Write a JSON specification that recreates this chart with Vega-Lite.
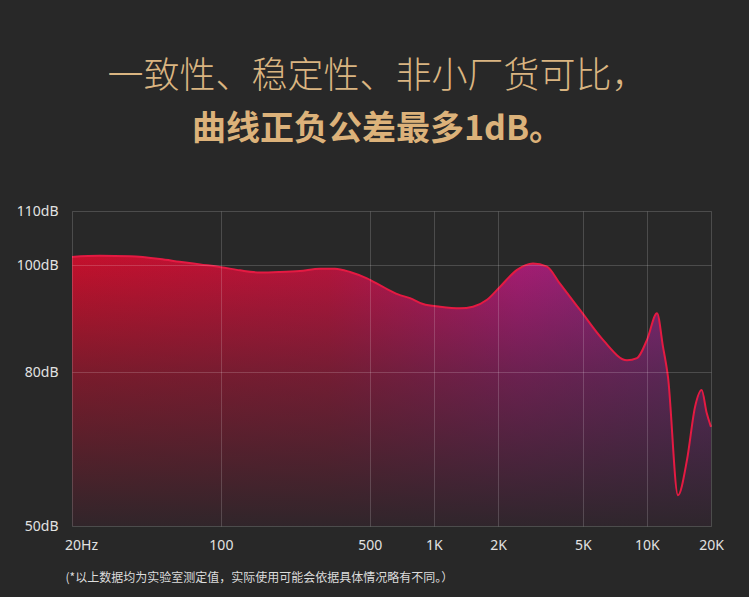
{
  "$schema": "https://vega.github.io/schema/vega-lite/v6.json",
  "width": 639,
  "height": 315,
  "autosize": {"type": "none"},
  "padding": {"left": 72, "top": 211, "right": 38, "bottom": 71},
  "background": "#282828",
  "config": {"view": {"stroke": null}},
  "title": {
    "text": "一致性、稳定性、非小厂货可比，",
    "subtitle": "曲线正负公差最多1dB。",
    "anchor": "middle",
    "frame": "group",
    "dx": -14,
    "offset": 56,
    "font": "Noto Sans CJK SC",
    "fontSize": 36,
    "fontWeight": 300,
    "color": "#dab581",
    "subtitleFont": "Noto Sans CJK SC",
    "subtitleFontSize": 34,
    "subtitleFontWeight": "bold",
    "subtitleColor": "#dcb27a",
    "subtitlePadding": 17
  },
  "data": {
    "values": [
      {"f": 20, "db": 101.5},
      {"f": 27, "db": 101.7},
      {"f": 37.4, "db": 101.6},
      {"f": 51.8, "db": 101.1},
      {"f": 64, "db": 100.6},
      {"f": 80, "db": 100.1},
      {"f": 100, "db": 99.6},
      {"f": 123, "db": 99.0},
      {"f": 153, "db": 98.6},
      {"f": 189, "db": 98.7},
      {"f": 235, "db": 98.9},
      {"f": 292, "db": 99.3},
      {"f": 343, "db": 99.3},
      {"f": 404, "db": 98.7},
      {"f": 485, "db": 97.5},
      {"f": 577, "db": 95.9},
      {"f": 679, "db": 94.5},
      {"f": 772, "db": 93.8},
      {"f": 889, "db": 92.7},
      {"f": 1069, "db": 92.2},
      {"f": 1326, "db": 91.9},
      {"f": 1526, "db": 92.2},
      {"f": 1776, "db": 93.5},
      {"f": 2042, "db": 95.9},
      {"f": 2456, "db": 99.1},
      {"f": 2920, "db": 100.3},
      {"f": 3396, "db": 99.7},
      {"f": 3908, "db": 96.5},
      {"f": 4854, "db": 91.6},
      {"f": 6224, "db": 86.0},
      {"f": 8066, "db": 82.2},
      {"f": 8988, "db": 82.6},
      {"f": 10012, "db": 86.0},
      {"f": 11158, "db": 91.0},
      {"f": 11905, "db": 84.7},
      {"f": 12565, "db": 79.0},
      {"f": 13996, "db": 56.0},
      {"f": 15432, "db": 62.9},
      {"f": 16828, "db": 73.2},
      {"f": 18078, "db": 76.5},
      {"f": 19094, "db": 72.0},
      {"f": 20000, "db": 69.3}
    ]
  },
  "encoding": {
    "x": {
      "field": "f",
      "type": "quantitative",
      "scale": {"type": "log", "domain": [20, 20000], "nice": false},
      "axis": {
        "values": [20, 100, 500, 1000, 2000, 5000, 10000, 20000],
        "labelExpr": "datum.value == 20 ? '20Hz' : (datum.value >= 1000 ? (datum.value / 1000) + 'K' : datum.value + '')",
        "labelOffset": {"condition": {"test": "datum.value == 20", "value": 9}, "value": 0},
        "labelFont": "Noto Sans",
        "labelFontSize": 14,
        "labelColor": "#e2e2e2",
        "labelPadding": 12,
        "labelFlush": false,
        "labelOverlap": false,
        "ticks": false,
        "domain": false,
        "grid": true,
        "gridColor": "#ffffff",
        "gridOpacity": 0.17,
        "gridWidth": 1,
        "zindex": 1,
        "title": "(*以上数据均为实验室测定值，实际使用可能会依据具体情况略有不同。）",
        "titleFont": "Noto Sans CJK SC",
        "titleFontSize": 12,
        "titleFontWeight": "normal",
        "titleColor": "#dcdcdc",
        "titleAnchor": "start",
        "titleAlign": "left",
        "titleBaseline": "middle",
        "titleX": -7,
        "titleY": 51
      }
    },
    "y": {
      "field": "db",
      "type": "quantitative",
      "scale": {"type": "linear", "domain": [50, 80, 100, 110], "range": [315, 161, 54, 0], "nice": false, "zero": false},
      "axis": {
        "values": [50, 80, 100, 110],
        "labelExpr": "datum.value + 'dB'",
        "labelFont": "Noto Sans",
        "labelFontSize": 14,
        "labelColor": "#e2e2e2",
        "labelPadding": 14,
        "labelBaseline": "middle",
        "labelFlush": false,
        "ticks": false,
        "domain": false,
        "grid": true,
        "gridColor": "#ffffff",
        "gridOpacity": 0.17,
        "gridWidth": 1,
        "zindex": 1,
        "title": null
      }
    }
  },
  "layer": [
    {
      "mark": {
        "type": "area",
        "interpolate": "monotone",
        "color": {
          "gradient": "linear",
          "x1": 0, "y1": 0, "x2": 1, "y2": 0,
          "stops": [
            {"offset": 0, "color": "#c4102c"},
            {"offset": 0.4, "color": "#b8143c"},
            {"offset": 0.7, "color": "#a81c74"},
            {"offset": 1, "color": "#7c2a80"}
          ]
        }
      },
      "encoding": {"y2": {"datum": 50}}
    },
    {
      "mark": {
        "type": "area",
        "interpolate": "monotone",
        "color": {
          "gradient": "linear",
          "x1": 0, "y1": 0, "x2": 0, "y2": 1,
          "stops": [
            {"offset": 0, "color": "rgba(44,38,42,0)"},
            {"offset": 0.45, "color": "rgba(44,38,42,0.5)"},
            {"offset": 1, "color": "rgba(44,38,42,0.97)"}
          ]
        }
      },
      "encoding": {"y2": {"datum": 50}}
    },
    {
      "mark": {"type": "line", "interpolate": "monotone", "color": "#e41a42", "strokeWidth": 2},
      "encoding": {}
    }
  ]
}
